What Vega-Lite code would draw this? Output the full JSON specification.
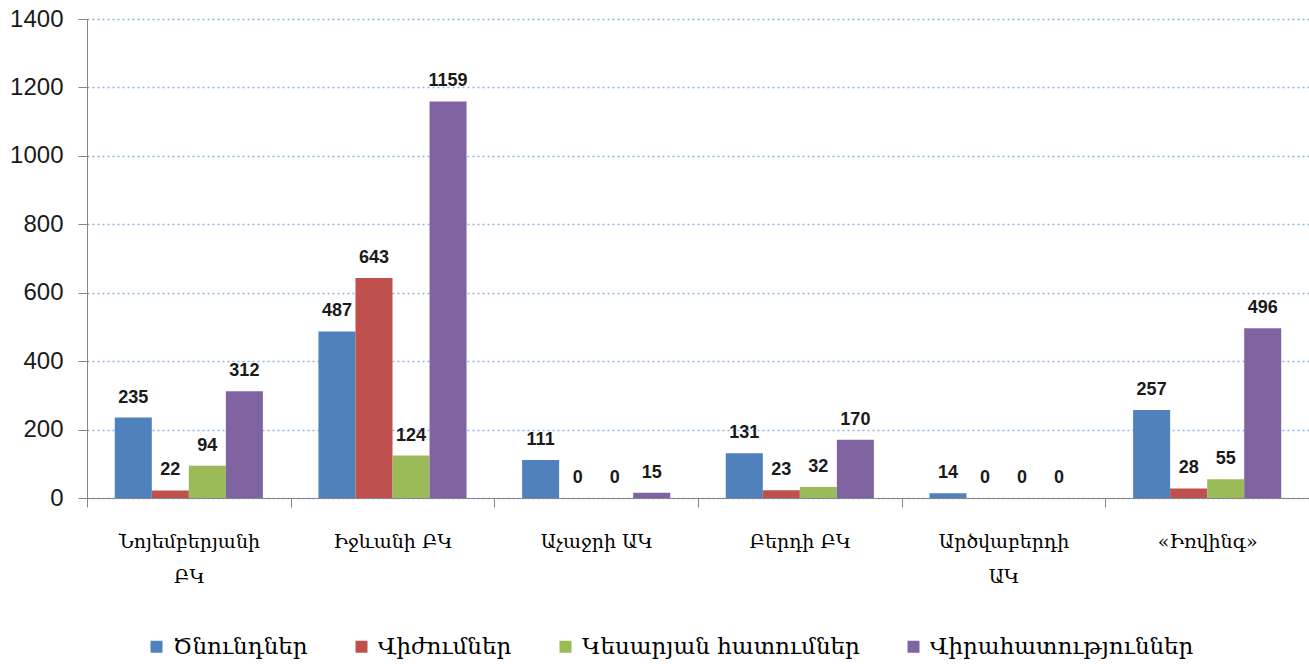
{
  "$schema": "https://vega.github.io/schema/vega-lite/v6.json",
  "width": 1222,
  "height": 479,
  "autosize": "none",
  "padding": {"left": 87, "top": 19, "right": 0, "bottom": 166},
  "background": "white",
  "config": {"view": {"stroke": null}},
  "data": {
    "values": [
      {"cat": "Նոյեմբերյանի\nԲԿ", "series": "Ծնունդներ", "value": 235},
      {"cat": "Նոյեմբերյանի\nԲԿ", "series": "Վիժումներ", "value": 22},
      {"cat": "Նոյեմբերյանի\nԲԿ", "series": "Կեսարյան հատումներ", "value": 94},
      {"cat": "Նոյեմբերյանի\nԲԿ", "series": "Վիրահատություններ", "value": 312},
      {"cat": "Իջևանի ԲԿ", "series": "Ծնունդներ", "value": 487},
      {"cat": "Իջևանի ԲԿ", "series": "Վիժումներ", "value": 643},
      {"cat": "Իջևանի ԲԿ", "series": "Կեսարյան հատումներ", "value": 124},
      {"cat": "Իջևանի ԲԿ", "series": "Վիրահատություններ", "value": 1159},
      {"cat": "Աչաջրի ԱԿ", "series": "Ծնունդներ", "value": 111},
      {"cat": "Աչաջրի ԱԿ", "series": "Վիժումներ", "value": 0},
      {"cat": "Աչաջրի ԱԿ", "series": "Կեսարյան հատումներ", "value": 0},
      {"cat": "Աչաջրի ԱԿ", "series": "Վիրահատություններ", "value": 15},
      {"cat": "Բերդի ԲԿ", "series": "Ծնունդներ", "value": 131},
      {"cat": "Բերդի ԲԿ", "series": "Վիժումներ", "value": 23},
      {"cat": "Բերդի ԲԿ", "series": "Կեսարյան հատումներ", "value": 32},
      {"cat": "Բերդի ԲԿ", "series": "Վիրահատություններ", "value": 170},
      {"cat": "Արծվաբերդի\nԱԿ", "series": "Ծնունդներ", "value": 14},
      {"cat": "Արծվաբերդի\nԱԿ", "series": "Վիժումներ", "value": 0},
      {"cat": "Արծվաբերդի\nԱԿ", "series": "Կեսարյան հատումներ", "value": 0},
      {"cat": "Արծվաբերդի\nԱԿ", "series": "Վիրահատություններ", "value": 0},
      {"cat": "«Իռվինգ»", "series": "Ծնունդներ", "value": 257},
      {"cat": "«Իռվինգ»", "series": "Վիժումներ", "value": 28},
      {"cat": "«Իռվինգ»", "series": "Կեսարյան հատումներ", "value": 55},
      {"cat": "«Իռվինգ»", "series": "Վիրահատություններ", "value": 496}
    ]
  },
  "encoding": {
    "x": {
      "field": "cat",
      "type": "nominal",
      "sort": null,
      "scale": {"paddingInner": 0, "paddingOuter": 0},
      "axis": {
        "title": null,
        "labelAngle": 0,
        "tickBand": "extent",
        "domainColor": "#868686",
        "tickColor": "#868686",
        "tickSize": 9,
        "labelFont": "DejaVu Serif",
        "labelFontSize": 19,
        "labelColor": "black",
        "labelPadding": 25,
        "labelLineHeight": 35,
        "labelLimit": 0,
        "labelExpr": "split(datum.label, '\\n')",
        "grid": false
      }
    },
    "xOffset": {
      "field": "series",
      "type": "nominal",
      "sort": ["Ծնունդներ", "Վիժումներ", "Կեսարյան հատումներ", "Վիրահատություններ"],
      "scale": {"paddingInner": 0, "paddingOuter": 0.75}
    },
    "y": {
      "field": "value",
      "type": "quantitative",
      "scale": {"domain": [0, 1400], "nice": false},
      "axis": {
        "title": null,
        "values": [0, 200, 400, 600, 800, 1000, 1200, 1400],
        "format": "d",
        "domainColor": "#868686",
        "tickColor": "#868686",
        "tickSize": 9,
        "ticks": true,
        "labelFont": "Liberation Sans",
        "labelFontSize": 24,
        "labelColor": "#1a1a1a",
        "labelPadding": 15,
        "grid": true,
        "gridColor": "#8EB4E3",
        "gridDash": [2, 3],
        "gridWidth": 1.5
      }
    }
  },
  "layer": [
    {
      "mark": {"type": "bar"},
      "encoding": {
        "color": {
          "field": "series",
          "type": "nominal",
          "sort": ["Ծնունդներ", "Վիժումներ", "Կեսարյան հատումներ", "Վիրահատություններ"],
          "scale": {
            "domain": ["Ծնունդներ", "Վիժումներ", "Կեսարյան հատումներ", "Վիրահատություններ"],
            "range": ["#4F81BD", "#C0504D", "#9BBB59", "#8064A2"]
          },
          "legend": {
            "title": null,
            "orient": "none",
            "direction": "horizontal",
            "legendX": 58,
            "legendY": 616,
            "symbolType": "square",
            "symbolSize": 144,
            "symbolStrokeWidth": 0,
            "symbolOpacity": 1,
            "labelFont": "DejaVu Serif",
            "labelFontSize": 23,
            "labelColor": "black",
            "labelOffset": 5,
            "columnPadding": 42,
            "labelLimit": 0
          }
        }
      }
    },
    {
      "mark": {
        "type": "text",
        "baseline": "alphabetic",
        "dy": -15,
        "font": "Liberation Sans",
        "fontWeight": "bold",
        "fontSize": 18,
        "color": "#1a1a1a"
      },
      "encoding": {"text": {"field": "value", "type": "quantitative"}}
    }
  ]
}
